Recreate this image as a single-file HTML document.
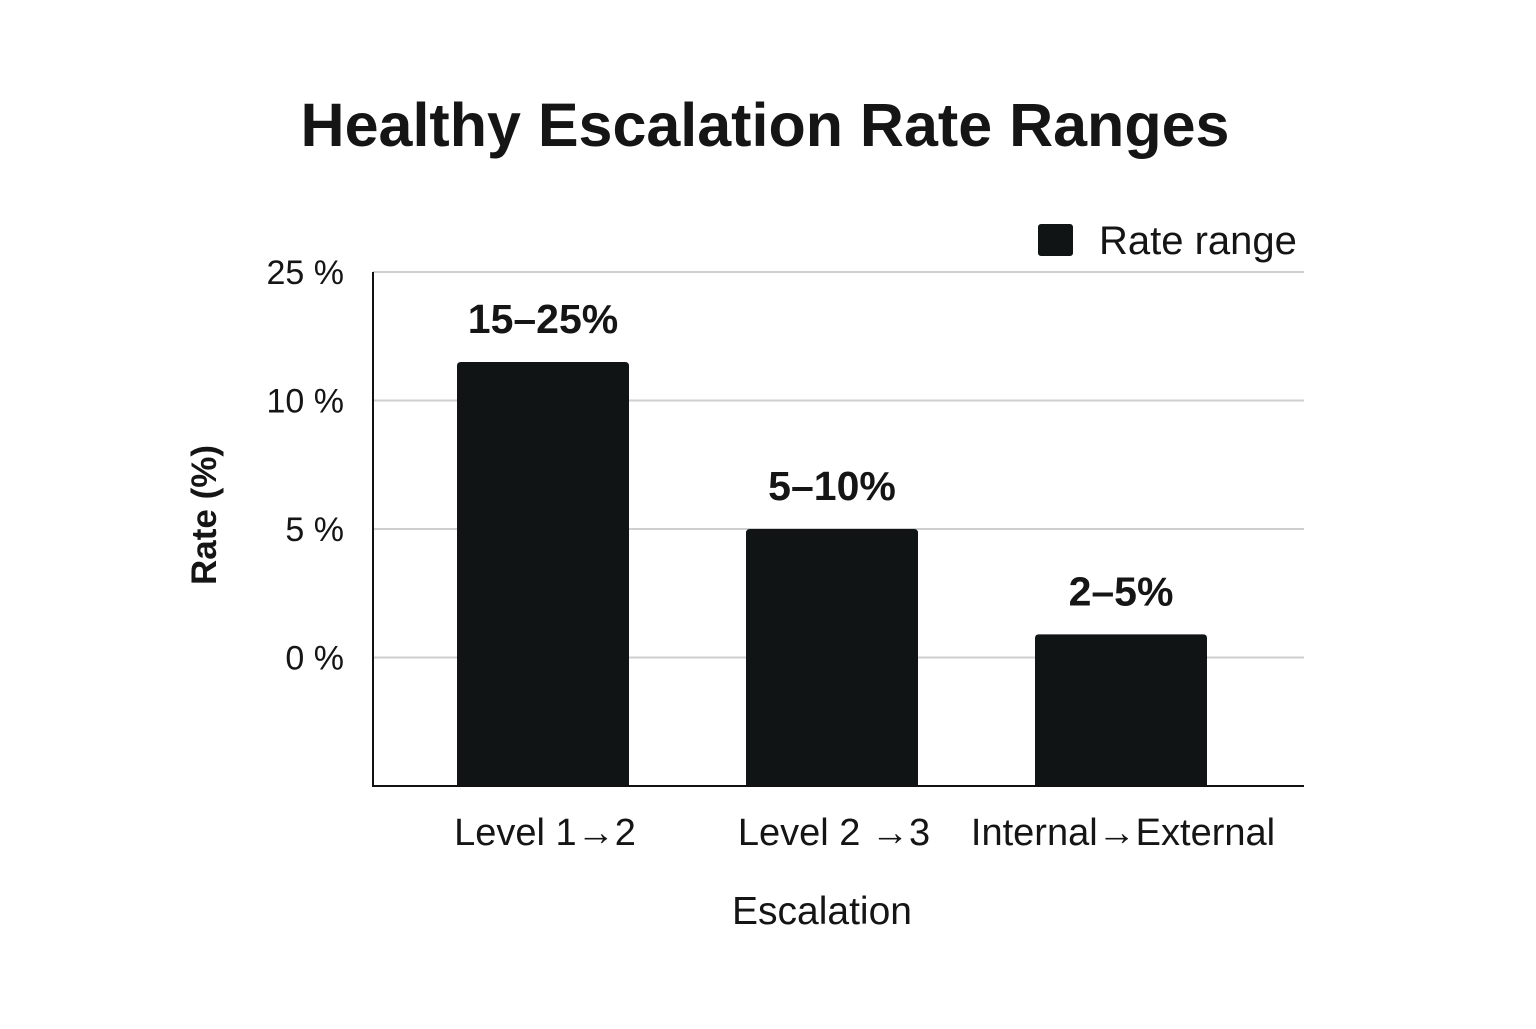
<!DOCTYPE html>
<html><head><meta charset="utf-8"><style>
html,body{margin:0;padding:0;background:#fff}
svg text{font-family:"Liberation Sans",sans-serif;fill:#151515}
</style></head><body>
<svg id="chart" width="1536" height="1024" viewBox="0 0 1536 1024">
<text x="765" y="146" text-anchor="middle" font-size="61" font-weight="bold">Healthy Escalation Rate Ranges</text>
<rect x="1038" y="224" width="35" height="32" rx="3" fill="#111414"/>
<text x="1099" y="254" font-size="40">Rate range</text>
<text transform="translate(216,515) rotate(-90)" text-anchor="middle" font-size="35" font-weight="bold">Rate (%)</text>
<text x="822" y="924" text-anchor="middle" font-size="39">Escalation</text>
<g id="grid"></g><g id="bars"></g><g id="axes"></g>
</svg>
<script>
const categories=["Level 1\u21922","Level 2 \u21923","Internal\u2192External"];
const values=[14.5,5,0.9];
const valueLabels=["15\u201325%","5\u201310%","2\u20135%"];
const tickValues=[25,10,5,0];
const tickLabels=["25 %","10 %","5 %","0 %"];
const NS="http://www.w3.org/2000/svg";
const L=373,R=1304,T=272,B=786,step=(B-T)/4;
const knots=tickValues.concat([-5]);
function y(v){for(let i=0;i<knots.length-1;i++){const a=knots[i],b=knots[i+1];if(v<=a&&v>=b)return T+step*(i+(a-v)/(a-b));}return v>knots[0]?T:B;}
const band=289,firstOffset=170;
function xc(i){return L+firstOffset+band*i;}
function mk(tag,attrs,parent){const e=document.createElementNS(NS,tag);for(const k in attrs)e.setAttribute(k,attrs[k]);parent.appendChild(e);return e;}
const grid=document.getElementById('grid'),bars=document.getElementById('bars'),axes=document.getElementById('axes');
tickValues.forEach((v,i)=>{
 const l=mk('line',{x1:L,x2:R,y1:y(v),y2:y(v),stroke:'#cfcfcf','stroke-width':2},grid);
 
 
 const t=mk('text',{x:344,y:y(v)+12,'text-anchor':'end','font-size':34},grid);
 t.textContent=tickLabels[i];
 
 
});
values.forEach((v,i)=>{
 const w=172,x=xc(i)-w/2,top=y(v);
 const r=mk('path',{d:`M${x},${B}V${top+4}Q${x},${top} ${x+4},${top}H${x+w-4}Q${x+w},${top} ${x+w},${top+4}V${B}Z`,fill:'#111414'},bars);
 
 
 const t=mk('text',{x:xc(i),y:top-29,'text-anchor':'middle','font-size':41,'font-weight':'bold'},bars);
 t.textContent=valueLabels[i];
 
 
 const c=mk('text',{x:xc(i)+2,y:845,'text-anchor':'middle','font-size':38},bars);
 c.textContent=categories[i];
 
 
});
const ya=mk('line',{x1:L,x2:L,y1:T,y2:B+1,stroke:'#111','stroke-width':2},axes);


const xa=mk('line',{x1:L-1,x2:R,y1:B,y2:B,stroke:'#111','stroke-width':2},axes);


</script>
</body></html>
